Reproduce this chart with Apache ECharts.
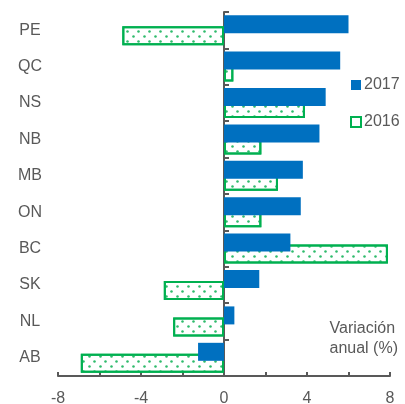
<!DOCTYPE html>
<html>
<head>
<meta charset="utf-8">
<script src="https://cdn.jsdelivr.net/npm/echarts@6/dist/echarts.min.js"></script>
<style>
html,body{margin:0;padding:0;background:#fff;}
#chart{width:405px;height:404px;}
</style>
</head>
<body>
<div id="chart"></div>
<script>
const categories = ['PE','QC','NS','NB','MB','ON','BC','SK','NL','AB'];
const values2017 = [6.0, 5.6, 4.9, 4.6, 3.8, 3.7, 3.2, 1.7, 0.5, -1.25];
const values2016 = [-4.9, 0.45, 3.9, 1.8, 2.6, 1.8, 7.9, -2.9, -2.45, -6.9];
const seriesNames = ['2017', '2016'];
const axisNote = 'Variación\nanual (%)';

const BLUE = '#0070C0';
const GREEN = '#00B050';
const GREY = '#595959';
const FONT = 'Liberation Sans, Arial, sans-serif';

const chart = echarts.init(document.getElementById('chart'), null, {renderer: 'canvas'});
chart.setOption({
  animation: false,
  backgroundColor: '#fff',
  grid: {left: 58, right: 15, top: 12, bottom: 28, containLabel: false, outerBoundsMode: 'none'},
  legend: {
    orient: 'vertical',
    left: 345, top: 72,
    itemWidth: 10, itemHeight: 10, itemGap: 21,
    textStyle: {fontSize: 16, color: GREY, fontFamily: FONT, padding: [0,0,0,-2]},
    data: [
      {name: '2017', icon: 'rect'},
      {name: '2016', icon: 'rect', itemStyle: {color: '#fff', borderColor: GREEN, borderWidth: 2, decal: 'none'}}
    ]
  },
  xAxis: {
    type: 'value', min: -8, max: 8, interval: 2,
    splitLine: {show: false},
    axisLine: {show: true, onZero: false, lineStyle: {color: GREY, width: 2}},
    axisTick: {show: true, inside: true, length: 4, lineStyle: {color: GREY, width: 2}},
    axisLabel: {
      fontSize: 16, color: GREY, fontFamily: FONT, margin: 15,
      formatter: v => (v % 4 === 0 ? String(v) : '')
    }
  },
  yAxis: {
    type: 'category', data: categories, inverse: true,
    position: 'left',
    axisLine: {show: true, onZero: true, lineStyle: {color: GREY, width: 2}},
    axisTick: {show: true, inside: true, length: 5, alignWithLabel: false, lineStyle: {color: GREY, width: 2}},
    axisLabel: {
      fontSize: 16, color: GREY, fontFamily: FONT,
      align: 'center', margin: 28, padding: [4, 0, 0, 0],
      formatter: v => v
    }
  },
  series: [
    {
      name: seriesNames[0], type: 'bar', data: values2017,
      barWidth: 18, barGap: '-39%', z: 3,
      itemStyle: {color: BLUE}
    },
    {
      name: seriesNames[1], type: 'bar', data: values2016,
      barWidth: 19, z: 2,
      itemStyle: {
        color: '#fff', borderColor: GREEN, borderWidth: 2,
        decal: {
          symbol: 'circle', symbolSize: 0.85, color: '#2fbb6c',
          dashArrayX: [[3, 8], [0, 5, 3, 3]],
          dashArrayY: [3, 2]
        }
      }
    }
  ],
  graphic: [
    {
      type: 'text', right: 7, top: 319,
      style: {text: axisNote, fontSize: 16, fill: GREY, fontFamily: FONT, align: 'right', lineHeight: 20}
    }
  ]
});
</script>
</body>
</html>
